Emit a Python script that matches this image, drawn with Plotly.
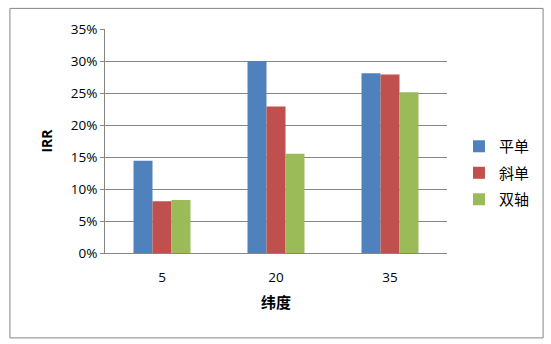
import plotly.graph_objects as go

categories = ["5", "20", "35"]
series_names = ["平单", "斜单", "双轴"]
ping_dan = [0.144, 0.300, 0.281]
xie_dan = [0.081, 0.229, 0.279]
shuang_zhou = [0.083, 0.155, 0.251]
colors = ["#4F81BD", "#C0504D", "#9BBB59"]
y_ticks = [0, 0.05, 0.10, 0.15, 0.20, 0.25, 0.30, 0.35]
y_tick_labels = ["0%", "5%", "10%", "15%", "20%", "25%", "30%", "35%"]

fig = go.Figure()
for name, vals, c in zip(series_names, [ping_dan, xie_dan, shuang_zhou], colors):
    fig.add_trace(go.Bar(x=categories, y=vals, name=name, legendgroup=name,
                         marker=dict(color=c, line=dict(width=0))))

font_family = "Open Sans, Noto Sans CJK SC, sans-serif"
fig.update_layout(
    width=551, height=344,
    margin=dict(l=105, r=104, t=29, b=91),
    barmode="group", bargap=0.5, bargroupgap=0,
    plot_bgcolor="white", paper_bgcolor="white",
    font=dict(family=font_family, size=13.5, color="#000000"),
    legend=dict(x=1.035, y=0.357, xanchor="left", yanchor="middle",
                font=dict(size=15, family="Noto Sans CJK SC, sans-serif"),
                itemwidth=30, tracegroupgap=4),
    xaxis=dict(
        type="category", showline=True, linecolor="#868686", linewidth=1,
        ticks="", ticklabelstandoff=12,
        title=dict(text="<b>纬度</b>", standoff=12,
                   font=dict(size=15, family="Noto Sans CJK SC, sans-serif")),
    ),
    yaxis=dict(
        range=[0, 0.35], tickvals=y_ticks, ticktext=y_tick_labels,
        showgrid=True, gridcolor="#868686", gridwidth=1,
        showline=True, linecolor="#868686", linewidth=1,
        ticks="outside", ticklen=4, tickcolor="#868686",
        zeroline=False,
        title=dict(text="<b>IRR</b>", standoff=14, font=dict(size=14)),
    ),
    shapes=[dict(type="rect", xref="paper", yref="paper",
                 x0=-0.278, x1=1.281, y0=-0.379, y1=1.092,
                 line=dict(color="#868686", width=1), fillcolor="rgba(0,0,0,0)", layer="below")],
)

fig.write_html("out.html")
